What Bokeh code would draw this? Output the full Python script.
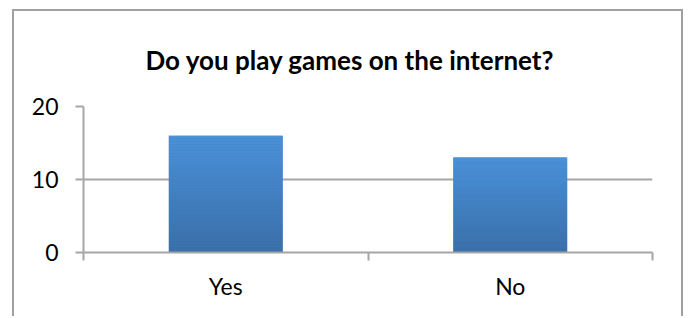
from bokeh.plotting import figure
from bokeh.models import (Range1d, LinearAxis, FixedTicker, Title, CustomJSTickFormatter)
from bokeh.embed import file_html
from bokeh.resources import INLINE

# ---- data ----
categories = ["Yes", "No"]
counts = [16, 13]
y_ticks = [0, 10, 20]
title_text = "Do you play games on the internet?"

# ---- styles ----
GRID = "#a6a6a6"
BORDER = "#a0a0a0"
TOP = (0x4a, 0x91, 0xd9)
BOT = (0x39, 0x6e, 0xa8)
FONT = "Lato"
N_SLICES = 40

n = len(categories)
centers = [i + 0.5 for i in range(n)]          # category slot centres
bounds = list(range(n + 1))                     # category slot boundaries

p = figure(width=671, height=307, output_backend="svg", toolbar_location=None,
           x_range=Range1d(0, n), y_range=Range1d(0, y_ticks[-1]),
           x_axis_location=None, title=None,
           min_border_left=69, min_border_right=33,
           min_border_top=95, min_border_bottom=66)
p.margin = (9, 0, 0, 12)
p.styles = {"border-left": f"2px solid {BORDER}",
            "border-top": f"2px solid {BORDER}",
            "border-right": f"2px solid {BORDER}"}
p.outline_line_color = None
p.background_fill_color = "white"
p.border_fill_color = "white"
p.xgrid.visible = False

# y axis
ya = p.yaxis[0]
ya.ticker = FixedTicker(ticks=y_ticks)
ya.axis_line_color = GRID
ya.axis_line_width = 2
ya.major_tick_line_color = GRID
ya.major_tick_line_width = 2
ya.major_tick_in = 0
ya.major_tick_out = 8
ya.minor_tick_line_color = None
ya.major_label_text_font = FONT
ya.major_label_text_font_size = "23px"
ya.major_label_text_color = "black"
ya.major_label_standoff = 17

p.ygrid.ticker = FixedTicker(ticks=y_ticks)
p.ygrid.grid_line_color = GRID
p.ygrid.grid_line_width = 2

# x axis: boundary ticks (no labels) + category labels
bax = LinearAxis(ticker=FixedTicker(ticks=bounds),
                 formatter=CustomJSTickFormatter(code="return ''"),
                 axis_line_color=GRID, axis_line_width=2,
                 major_tick_line_color=GRID, major_tick_line_width=2,
                 major_tick_in=0, major_tick_out=8,
                 minor_tick_line_color=None,
                 major_label_text_font_size="1px", major_label_standoff=0)
p.add_layout(bax, "below")
cax = LinearAxis(ticker=FixedTicker(ticks=centers),
                 major_label_overrides={c: lab for c, lab in zip(centers, categories)},
                 axis_line_color=None, major_tick_line_color=None,
                 minor_tick_line_color=None,
                 major_label_text_font=FONT,
                 major_label_text_font_size="23px",
                 major_label_text_color="black",
                 major_label_standoff=5)
p.add_layout(cax, "below")

# bars with vertical gradient (each bar relative to its own height)
mid = "#%02x%02x%02x" % tuple((TOP[j] + BOT[j]) // 2 for j in range(3))
p.vbar(x=centers, bottom=0, top=counts, width=0.4, fill_color=mid, line_color=None)
xs, bots, tops, cols = [], [], [], []
for xc, v in zip(centers, counts):
    for k in range(N_SLICES):
        t = (k + 0.5) / N_SLICES
        c = tuple(int(round(BOT[j] + (TOP[j] - BOT[j]) * t)) for j in range(3))
        xs.append(xc)
        bots.append(v * k / N_SLICES)
        tops.append(v * (k + 1) / N_SLICES)
        cols.append("#%02x%02x%02x" % c)
p.vbar(x=xs, bottom=bots, top=tops, width=0.4, fill_color=cols, line_color=None)

# title
p.add_layout(Title(text=title_text, align="left", offset=62, standoff=59,
                   vertical_align="middle",
                   text_font=FONT, text_font_style="bold", text_font_size="26px",
                   text_color="black"), "above")

open("out.html", "w").write(file_html(p, INLINE))
